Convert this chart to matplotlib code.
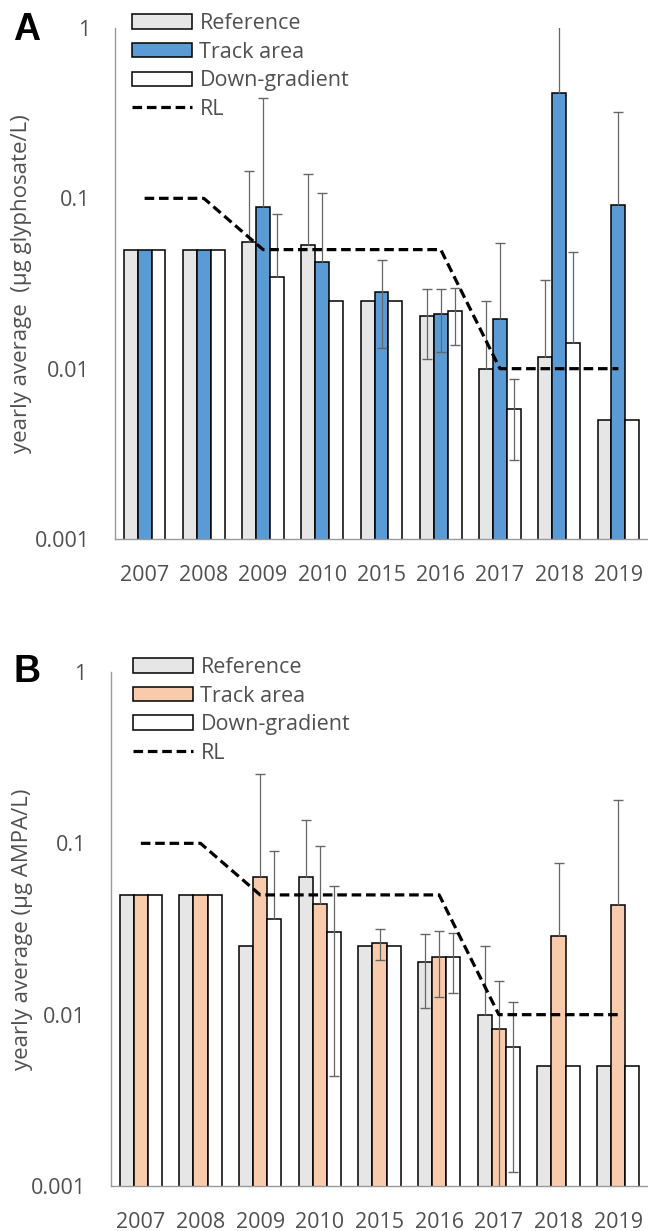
import numpy as np
import matplotlib
matplotlib.use("Agg")
import matplotlib.pyplot as plt
from matplotlib.ticker import FixedLocator, FixedFormatter, NullLocator

plt.rcParams['font.family'] = ['Open Sans', 'DejaVu Sans']

years = ['2007', '2008', '2009', '2010', '2015', '2016', '2017', '2018', '2019']

# Glyphosate, yearly averages (µg/L)
gly_reference = [0.05, 0.05, 0.0556, 0.0535, 0.025, 0.0204, 0.01, 0.0117, 0.005]
gly_track = [0.05, 0.05, 0.089, 0.0425, 0.0283, 0.0209, 0.0196, 0.415, 0.0914]
gly_down = [0.05, 0.05, 0.0345, 0.025, 0.025, 0.0218, 0.0058, 0.0141, 0.005]
gly_reference_sd = [0, 0, 0.089, 0.085, 0, 0.009, 0.015, 0.0215, 0]
gly_track_sd = [0, 0, 0.30, 0.0645, 0.015, 0.0084, 0.035, 0.75, 0.23]
gly_down_sd = [0, 0, 0.0465, 0, 0, 0.008, 0.0029, 0.0343, 0]

# AMPA, yearly averages (µg/L)
ampa_reference = [0.05, 0.05, 0.025, 0.0636, 0.025, 0.0203, 0.01, 0.005, 0.005]
ampa_track = [0.05, 0.05, 0.0636, 0.0442, 0.0262, 0.0217, 0.0082, 0.0288, 0.0436]
ampa_down = [0.05, 0.05, 0.0361, 0.0304, 0.025, 0.0217, 0.0065, 0.005, 0.005]
ampa_reference_sd = [0, 0, 0, 0.073, 0, 0.0093, 0.015, 0, 0]
ampa_track_sd = [0, 0, 0.19, 0.052, 0.0054, 0.009, 0.0075, 0.048, 0.135]
ampa_down_sd = [0, 0, 0.054, 0.026, 0, 0.0083, 0.0053, 0, 0]

# Regulatory limit per year (µg/L)
rl_limit = [0.1, 0.1, 0.05, 0.05, 0.05, 0.05, 0.01, 0.01, 0.01]

series_names = ['Reference', 'Track area', 'Down-gradient', 'RL']
y_ticks = [0.001, 0.01, 0.1, 1]
y_tick_labels = ['0.001', '0.01', '0.1', '1']

TEXT = '#505050'
AXIS = '#9a9a9a'
ERR = '#666666'
GREY = '#E7E6E6'
BLUE = '#5B9BD5'
PEACH = '#F8CBAD'

fig = plt.figure(figsize=(6.48, 12.31), dpi=100)


def error_bars(ax, xpos, values, sd):
    """Symmetric SD bars; the lower half is left out when it would fall below zero."""
    xs, lo, hi, lo_caps_x, lo_caps_y = [], [], [], [], []
    for xi, v, s in zip(xpos, values, sd):
        if s <= 0:
            continue
        low = v - s
        xs.append(xi)
        hi.append(v + s)
        if low > 0:
            lo.append(low)
            lo_caps_x.append(xi)
            lo_caps_y.append(low)
        else:
            lo.append(v)
    ax.vlines(xs, lo, hi, colors=ERR, linewidth=0.9, zorder=3)
    ax.plot(xs, hi, linestyle='none', marker='_', markersize=6.5,
            markeredgewidth=1.0, color=ERR, zorder=3)
    ax.plot(lo_caps_x, lo_caps_y, linestyle='none', marker='_', markersize=6.5,
            markeredgewidth=1.0, color=ERR, zorder=3)


def panel(rect, ref, track, down, ref_sd, track_sd, down_sd, track_color,
          ylabel, letter, letter_y, legend_anchor, ylabel_x):
    ax = fig.add_axes(rect)
    x = np.arange(len(years))
    w = 0.235
    b1 = ax.bar(x - w, ref, w, color=GREY, edgecolor='black', linewidth=1.1, zorder=2)
    b2 = ax.bar(x, track, w, color=track_color, edgecolor='black', linewidth=1.1, zorder=2)
    b3 = ax.bar(x + w, down, w, color='white', edgecolor='black', linewidth=1.1, zorder=2)
    error_bars(ax, x - w, ref, ref_sd)
    error_bars(ax, x, track, track_sd)
    error_bars(ax, x + w, down, down_sd)
    rl, = ax.plot(x, rl_limit, color='black', linewidth=2.3,
                  linestyle=(0, (3.0, 1.5)), zorder=4)

    ax.set_yscale('log')
    ax.set_ylim(0.001, 1)
    ax.set_xlim(-0.5, len(years) - 0.5)
    ax.yaxis.set_major_locator(FixedLocator(y_ticks))
    ax.yaxis.set_major_formatter(FixedFormatter(y_tick_labels))
    ax.yaxis.set_minor_locator(NullLocator())
    ax.set_xticks(x)
    ax.set_xticklabels(years)
    ax.tick_params(axis='both', length=0, labelsize=15.5, labelcolor=TEXT)
    ax.tick_params(axis='y', pad=18)
    ax.tick_params(axis='x', pad=18.5)
    for side in ('top', 'right'):
        ax.spines[side].set_visible(False)
    for side in ('left', 'bottom'):
        ax.spines[side].set_color(AXIS)
        ax.spines[side].set_linewidth(1.0)

    ax.set_ylabel(ylabel, fontsize=16, color=TEXT)
    ax.yaxis.set_label_coords(ylabel_x, 0.5)

    ax.legend([b1, b2, b3, rl], series_names, loc='upper left',
              bbox_to_anchor=legend_anchor, frameon=False, fontsize=15.5,
              labelcolor=TEXT, handlelength=2.8, handleheight=0.65,
              handletextpad=0.33, labelspacing=0.35, borderpad=0,
              borderaxespad=0)

    fig.text(13 / 648, letter_y, letter, fontsize=27, fontweight='bold',
             family='Liberation Sans', ha='left', va='baseline', color='black')
    return ax


W, H = 648, 1231
panel([115 / W, 1 - 539 / H, 533 / W, 511 / H],
      gly_reference, gly_track, gly_down,
      gly_reference_sd, gly_track_sd, gly_down_sd, BLUE,
      'yearly average  (µg glyphosate/L)', 'A', 1 - 40 / H,
      (0.032, 1.029), -0.155)
panel([111 / W, 1 - 1186 / H, 537 / W, 514 / H],
      ampa_reference, ampa_track, ampa_down,
      ampa_reference_sd, ampa_track_sd, ampa_down_sd, PEACH,
      'yearly average (µg AMPA/L)', 'B', 1 - 682 / H,
      (0.041, 1.029), -0.146)

fig.savefig('out.png', dpi=100)
